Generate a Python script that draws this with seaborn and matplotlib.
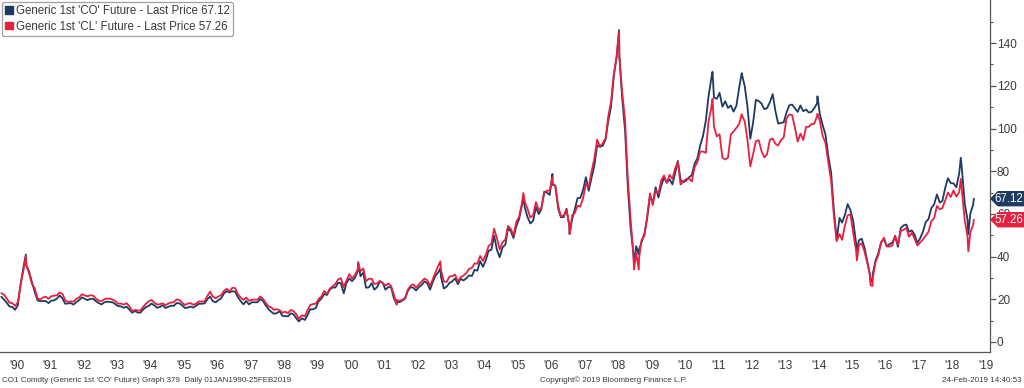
import numpy as np
import pandas as pd
import matplotlib
matplotlib.use("Agg")
import matplotlib.pyplot as plt
from matplotlib.patches import Patch, Polygon
import seaborn as sns

# ---------------- data (monthly levels, USD/bbl) ----------------
years = list(range(1990, 2020))

brent_co = [
    [21.2, 19.8, 18.4, 16.6, 16.4, 15.1, 17.2, 27.2, 35.2, 36.0, 33.0, 28.2],
    [23.6, 19.5, 19.1, 19.2, 19.2, 18.2, 19.3, 19.5, 20.3, 21.8, 20.4, 17.9],
    [18.1, 18.2, 17.5, 18.7, 19.6, 20.9, 20.2, 19.6, 20.2, 20.2, 19.1, 18.2],
    [17.6, 18.6, 18.9, 18.7, 18.6, 17.7, 16.8, 16.7, 16.0, 16.5, 15.2, 13.7],
    [14.5, 13.8, 13.7, 15.2, 16.3, 16.9, 18.0, 17.1, 16.0, 16.4, 17.2, 15.9],
    [16.5, 17.0, 16.9, 18.2, 18.1, 17.2, 15.9, 16.1, 16.6, 16.1, 17.0, 17.9],
    [17.9, 18.1, 19.9, 21.3, 19.1, 18.6, 19.6, 20.5, 22.8, 23.8, 23.2, 23.8],
    [23.5, 20.9, 19.2, 17.6, 19.2, 17.6, 18.6, 18.6, 18.6, 20.1, 19.2, 17.1],
    [15.3, 14.1, 13.2, 13.5, 14.4, 12.2, 12.1, 12.0, 13.4, 12.9, 11.0, 9.8],
    [11.1, 10.3, 12.5, 15.3, 15.3, 15.9, 19.0, 20.3, 22.5, 22.0, 24.6, 25.5],
    [25.5, 27.8, 27.5, 22.8, 27.6, 29.7, 28.5, 30.0, 33.1, 30.8, 32.5, 25.4],
    [25.6, 27.5, 24.5, 25.7, 28.4, 27.7, 24.5, 25.7, 25.6, 20.5, 18.9, 18.6],
    [19.4, 20.3, 23.7, 25.7, 25.4, 24.1, 25.7, 26.7, 28.4, 27.5, 24.5, 28.2],
    [31.2, 32.8, 30.3, 25.0, 25.9, 27.7, 28.4, 29.8, 27.1, 29.6, 28.8, 29.8],
    [31.2, 30.9, 33.8, 33.4, 37.9, 35.2, 38.2, 42.7, 43.2, 49.8, 43.1, 39.7],
    [44.3, 45.6, 53.1, 51.9, 48.7, 54.3, 57.6, 64.1, 62.9, 58.5, 55.5, 56.8],
    [63.1, 59.9, 62.3, 70.4, 70.0, 68.9, 73.7, 73.2, 62.5, 58.4, 58.5, 62.4],
    [54.3, 57.6, 62.1, 67.4, 67.5, 71.3, 77.2, 70.8, 77.0, 82.5, 92.1, 91.4],
    [91.9, 94.8, 103.3, 110.4, 124.6, 133.5, 133.9, 113.9, 99.1, 72.8, 53.2, 41.6],
    [44.9, 43.2, 46.8, 50.8, 57.9, 68.6, 64.9, 72.5, 67.7, 73.2, 77.0, 74.7],
    [76.2, 73.8, 78.8, 84.8, 75.9, 74.8, 75.6, 77.1, 78.2, 83.5, 86.1, 92.0],
    [96.5, 103.7, 114.6, 123.3, 114.5, 113.9, 116.7, 110.2, 112.8, 109.6, 110.8, 107.9],
    [110.7, 119.3, 125.5, 119.8, 110.3, 95.2, 102.6, 113.4, 112.9, 111.7, 109.1, 109.5],
    [112.3, 116.1, 108.5, 102.3, 102.6, 102.9, 107.4, 110.9, 111.2, 109.5, 107.8, 110.8],
    [108.1, 108.9, 107.5, 107.8, 109.5, 111.8, 106.8, 101.6, 97.1, 87.4, 79.4, 62.3],
    [47.8, 58.1, 55.9, 59.5, 64.6, 61.7, 56.6, 46.5, 47.6, 48.4, 44.3, 38.0],
    [30.7, 32.2, 38.2, 41.6, 46.7, 48.3, 44.9, 45.8, 46.6, 49.5, 44.6, 53.3],
    [54.6, 55.0, 51.6, 52.3, 50.3, 46.4, 48.5, 51.7, 56.2, 57.6, 62.7, 64.4],
    [69.1, 65.3, 66.0, 72.1, 76.7, 74.4, 74.3, 72.5, 78.9, 81.0, 64.8, 57.4],
    [60.2, 64.4],
]

wti_cl = [
    [22.9, 22.1, 20.4, 18.4, 18.2, 16.9, 18.6, 27.2, 33.7, 35.9, 32.3, 27.3],
    [25.2, 20.5, 19.9, 20.8, 21.2, 20.2, 21.4, 21.7, 21.9, 23.2, 22.5, 19.5],
    [18.8, 19.0, 18.9, 20.2, 20.9, 22.4, 21.8, 21.4, 21.9, 21.7, 20.3, 19.4],
    [19.1, 20.1, 20.3, 20.3, 19.9, 19.1, 17.9, 18.0, 17.5, 18.2, 16.7, 14.5],
    [15.0, 14.8, 14.7, 16.4, 17.9, 19.1, 19.7, 18.4, 17.5, 17.7, 18.1, 17.2],
    [18.0, 18.5, 18.6, 19.9, 19.7, 18.4, 17.3, 18.0, 18.2, 17.4, 18.0, 19.0],
    [18.9, 19.1, 21.4, 23.6, 21.3, 20.5, 21.3, 22.0, 24.0, 24.9, 23.7, 25.4],
    [25.2, 22.2, 20.9, 19.7, 20.8, 19.3, 19.7, 19.9, 19.8, 21.3, 20.2, 18.3],
    [16.7, 16.1, 15.0, 15.4, 14.9, 13.7, 14.2, 13.5, 15.0, 14.4, 12.9, 11.3],
    [12.5, 12.0, 14.7, 17.3, 17.8, 17.9, 20.1, 21.3, 23.9, 22.6, 25.0, 26.1],
    [27.2, 29.4, 29.9, 25.7, 28.8, 31.8, 29.7, 31.3, 33.9, 33.1, 34.4, 28.5],
    [29.6, 29.6, 27.2, 27.4, 28.6, 27.6, 26.4, 27.4, 26.2, 22.2, 19.6, 19.3],
    [19.7, 20.7, 24.4, 26.3, 27.0, 25.5, 26.9, 28.4, 29.7, 28.9, 26.3, 29.4],
    [32.9, 35.9, 33.5, 28.3, 28.1, 30.7, 30.8, 31.6, 28.3, 30.3, 31.1, 32.2],
    [34.3, 34.7, 36.8, 36.7, 40.3, 38.0, 40.7, 44.9, 46.0, 53.1, 48.5, 43.3],
    [46.8, 48.0, 54.3, 53.0, 49.8, 56.3, 58.7, 65.0, 65.6, 62.4, 58.3, 59.4],
    [65.5, 61.6, 62.9, 69.7, 70.9, 71.0, 74.4, 73.0, 63.8, 58.9, 59.1, 62.0],
    [54.5, 59.3, 60.4, 63.9, 63.4, 67.5, 74.1, 72.4, 79.9, 85.8, 94.8, 91.7],
    [93.0, 95.4, 105.5, 112.6, 125.4, 133.9, 133.4, 116.7, 104.1, 76.6, 57.3, 41.1],
    [41.7, 39.1, 47.9, 49.7, 59.0, 69.6, 64.1, 71.0, 69.4, 75.7, 78.0, 74.5],
    [78.3, 76.4, 81.2, 84.3, 73.7, 75.3, 76.3, 76.6, 75.2, 81.9, 84.3, 89.2],
    [89.2, 88.6, 102.9, 109.5, 100.9, 96.3, 97.3, 86.3, 85.5, 86.3, 97.2, 98.6],
    [100.3, 102.2, 106.2, 103.3, 94.7, 82.3, 87.9, 94.1, 94.5, 89.5, 86.5, 87.9],
    [94.8, 95.3, 92.9, 92.0, 94.5, 95.8, 104.6, 106.6, 106.3, 100.5, 93.9, 97.6],
    [94.6, 100.8, 100.8, 102.1, 102.2, 105.8, 103.6, 96.5, 93.2, 84.4, 75.8, 59.3],
    [47.2, 50.6, 47.8, 54.5, 59.3, 59.8, 50.9, 42.9, 45.5, 46.2, 42.4, 37.2],
    [31.7, 30.3, 37.5, 40.8, 46.7, 48.8, 44.7, 44.7, 45.2, 49.8, 45.7, 52.0],
    [52.5, 53.5, 49.3, 51.1, 48.5, 45.2, 46.6, 48.0, 49.8, 51.6, 56.6, 57.9],
    [63.7, 62.2, 62.7, 66.3, 70.0, 67.9, 71.0, 68.1, 70.2, 70.8, 57.0, 49.5],
    [51.4, 55.0],
]

# intra-month extremes visible on the chart
extreme_dates = ["1990-10-11", "1998-12-10", "2000-09-20", "2001-11-15", "2003-03-07",
                 "2005-08-30", "2006-07-14", "2007-01-18", "2008-07-11", "2008-12-22",
                 "2009-02-12", "2011-04-29", "2012-03-13", "2014-06-19", "2015-08-24",
                 "2016-01-20", "2016-02-11", "2018-10-03", "2018-12-24", "2019-02-22"]
extreme_co = [41.0, 9.6, 37.4, 17.7, 34.5, 68.0, 78.7, 50.6, 146.1, 36.6,
              41.0, 126.6, 125.9, 115.1, 42.7, 27.9, 30.1, 86.3, 50.5, 67.12]
extreme_cl = [40.4, 10.7, 37.2, 17.5, 37.8, 69.8, 77.0, 50.5, 145.3, 33.9,
              33.9, 113.9, 106.7, 106.9, 38.2, 26.6, 26.2, 76.4, 42.5, 57.26]

last_co, last_cl = 67.12, 57.26
year_labels = ["'" + str(y)[2:] for y in years]

legend_labels = ["Generic 1st 'CO' Future - Last Price 67.12",
                 "Generic 1st 'CL' Future - Last Price 57.26"]
footer_left = "CO1 Comdty (Generic 1st 'CO' Future) Graph 379  Daily 01JAN1990-25FEB2019"
footer_mid = "Copyright\u00a9 2019 Bloomberg Finance L.P."
footer_right = "24-Feb-2019 14:40:53"

# ---------------- build long table ----------------
rows = []
for y, co_vals, cl_vals in zip(years, brent_co, wti_cl):
    for m, (co, cl) in enumerate(zip(co_vals, cl_vals), start=1):
        d = pd.Timestamp(year=y, month=m, day=15)
        rows.append((d, co, cl))
for d, co, cl in zip(extreme_dates, extreme_co, extreme_cl):
    rows.append((pd.Timestamp(d), co, cl))
wide = pd.DataFrame(rows, columns=["date", "CO", "CL"]).sort_values("date")
wide = wide[wide["date"] <= pd.Timestamp("2019-02-22")]
long = wide.melt(id_vars="date", var_name="series", value_name="price")

BLUE = "#1d3b62"
RED = "#e8203f"
TXT = "#3a3a3a"

# ---------------- figure ----------------
sns.set_style("white")
plt.rcParams["font.family"] = ["Liberation Sans", "DejaVu Sans"]

W, H = 1024, 388
fig = plt.figure(figsize=(W / 100, H / 100), dpi=100)
ax = fig.add_axes([0.0, 36 / H, 990 / W, 352 / H])

sns.lineplot(data=long, x="date", y="price", hue="series",
             hue_order=["CO", "CL"], palette={"CO": BLUE, "CL": RED},
             linewidth=1.3, legend=False, ax=ax, estimator=None, sort=True)

ax.set_xlim(pd.Timestamp("1990-01-01"), pd.Timestamp("2019-08-18"))
ax.set_ylim(-4.7, 160.2)
ax.set_xlabel("")
ax.set_ylabel("")

# spines
for s in ["top", "left"]:
    ax.spines[s].set_visible(False)
for s in ["bottom", "right"]:
    ax.spines[s].set_color("#555555")
    ax.spines[s].set_linewidth(0.9)

# y axis on right
ax.yaxis.tick_right()
ax.set_yticks(np.arange(0, 141, 20))
ax.set_yticks(np.arange(10, 160, 10), minor=True)
ax.tick_params(axis="y", which="major", direction="out", length=4, width=0.9,
               color="#555555", labelsize=8.5, labelcolor=TXT, pad=1)
ax.tick_params(axis="y", which="minor", direction="out", length=2, width=0.8,
               color="#555555")

# x axis: separators at year starts, labels mid-year
starts = [pd.Timestamp(year=y, month=1, day=1) for y in years]
mids = [pd.Timestamp(year=y, month=7, day=2) for y in years]
ax.set_xticks(starts[1:])
ax.set_xticklabels([])
ax.set_xticks(mids, minor=True)
ax.set_xticklabels(year_labels, minor=True)
ax.tick_params(axis="x", which="major", direction="out", length=19, width=0.8,
               color="#777777")
ax.tick_params(axis="x", which="minor", length=0, labelsize=8.5,
               labelcolor=TXT, pad=6)

# last value tags (pentagon tags pointing at the axis)
for val, col in [(last_co, BLUE), (last_cl, RED)]:
    _, ypix = ax.transData.transform((ax.get_xlim()[0], val))
    yf = ypix / H
    x0, x1, x2 = 991 / W, 998 / W, 1024 / W
    hh = 7 / H
    poly = Polygon([(x0, yf), (x1, yf + hh), (x2, yf + hh), (x2, yf - hh), (x1, yf - hh)],
                   closed=True, transform=fig.transFigure, facecolor=col,
                   edgecolor=col, zorder=10)
    fig.patches.append(poly)
    fig.text(1023 / W, yf, f"{val:.2f}", ha="right", va="center", fontsize=8.3,
             color="white", zorder=11)

# legend
handles = [Patch(facecolor=BLUE, edgecolor=BLUE), Patch(facecolor=RED, edgecolor=RED)]
leg = ax.legend(handles, legend_labels, loc="upper left", bbox_to_anchor=(0.002, 0.995),
                fontsize=8.3, handlelength=0.65, handleheight=0.65, handletextpad=0.25,
                labelspacing=0.3, borderpad=0.3, frameon=True, fancybox=True,
                borderaxespad=0.0)
leg.get_frame().set_edgecolor("#888888")
leg.get_frame().set_linewidth(0.9)
for t in leg.get_texts():
    t.set_color(TXT)

# footer
fig.text(2 / W, 4 / H, footer_left, fontsize=5.8, color=TXT, ha="left", va="bottom")
fig.text(540 / W, 4 / H, footer_mid, fontsize=5.8, color=TXT, ha="left", va="bottom")
fig.text(1022 / W, 4 / H, footer_right, fontsize=5.8, color=TXT, ha="right", va="bottom")

fig.savefig("out.png", dpi=100)
